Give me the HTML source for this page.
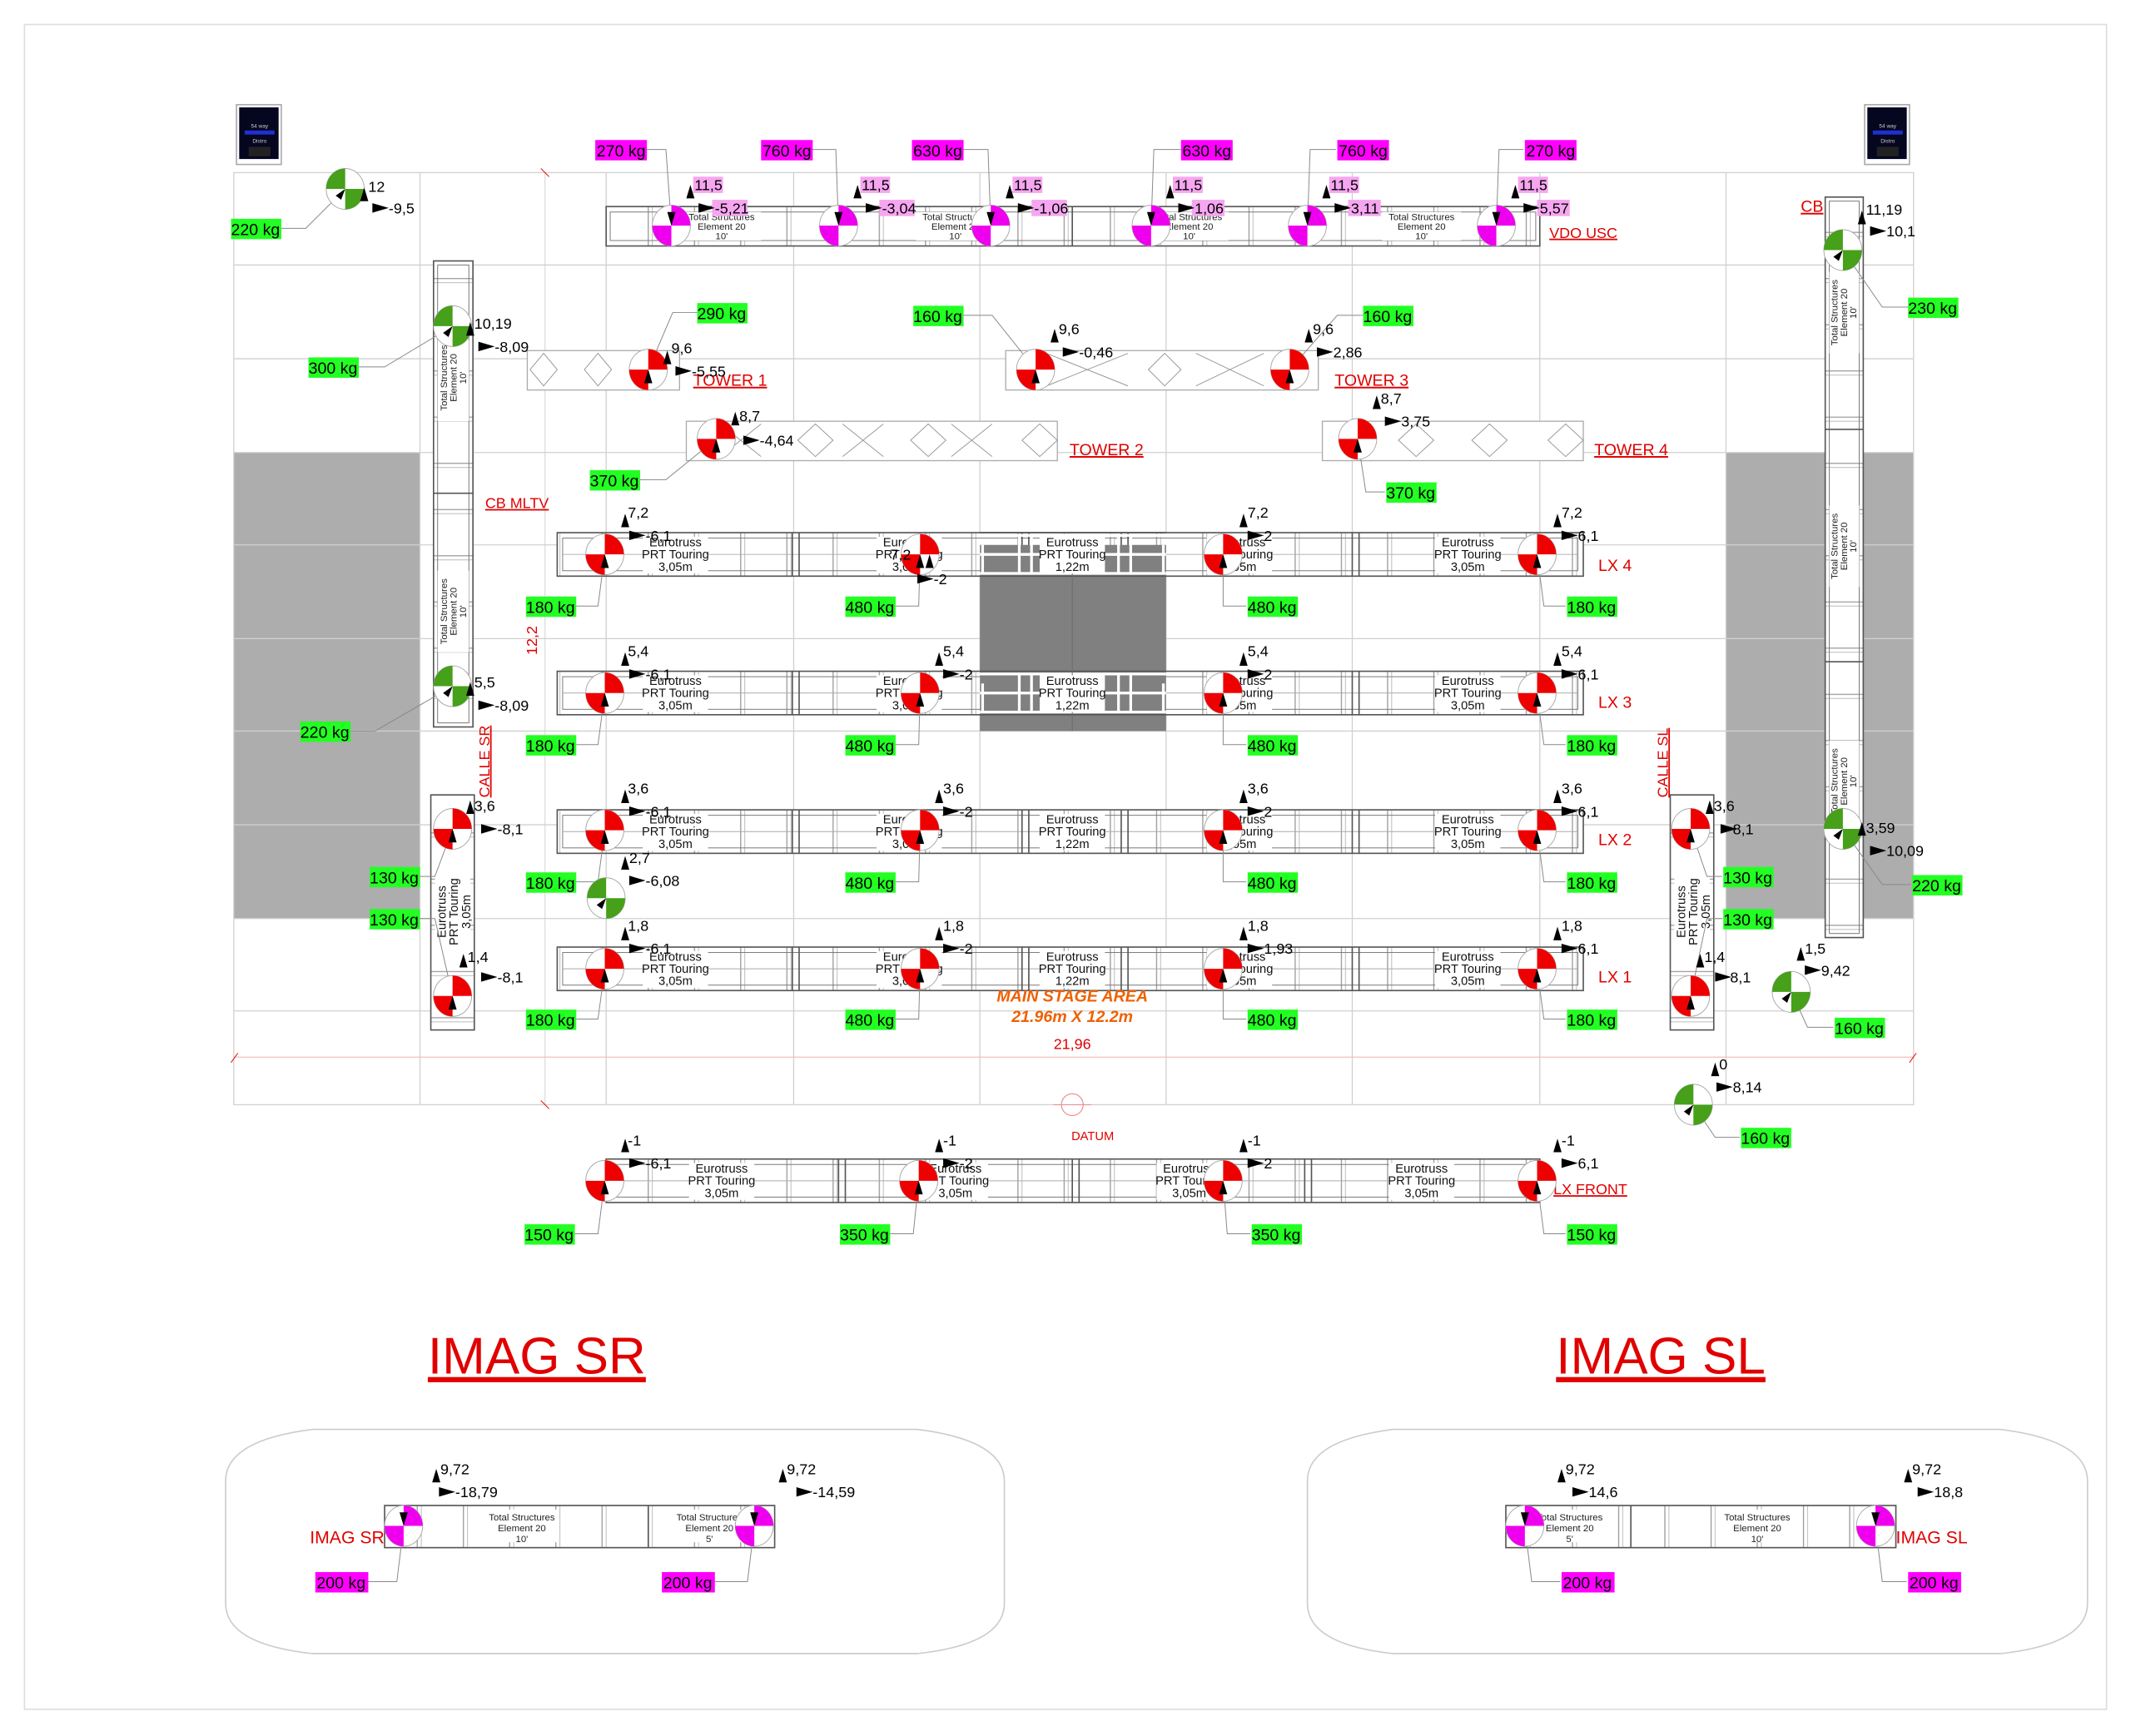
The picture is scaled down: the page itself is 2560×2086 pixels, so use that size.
<!DOCTYPE html>
<html><head><meta charset="utf-8"><style>
html,body{margin:0;padding:0;background:#fff}
svg{display:block}
text{font-family:"Liberation Sans",sans-serif}
.v{font-size:11px;fill:#000}
.kg{font-size:12px;fill:#000;text-anchor:middle}
.tl{font-size:7px;fill:#222;text-anchor:middle}
.rd{fill:#e00000;font-size:12px}
.g{stroke:#d0d0d0;stroke-width:.8;fill:none}
.ld{stroke:#888;stroke-width:.6;fill:none}
.tr{fill:url(#tp);stroke:#555;stroke-width:1}
</style></head><body>
<svg width="2560" height="2086" viewBox="0 0 1568 1277.6" xmlns="http://www.w3.org/2000/svg">
<defs>
<pattern id="tp" patternUnits="userSpaceOnUse" width="34" height="34">
<rect width="34" height="34" fill="#fff"/>
<line x1="1" y1="0" x2="1" y2="34" stroke="#999" stroke-width="0.8"/>
<line x1="4" y1="0" x2="4" y2="34" stroke="#bbb" stroke-width="0.6"/>
</pattern>
<pattern id="tpv" patternUnits="userSpaceOnUse" width="34" height="34">
<rect width="34" height="34" fill="#fff"/>
<line y1="1" x1="0" y2="1" x2="34" stroke="#999" stroke-width="0.8"/>
<line y1="4" x1="0" y2="4" x2="34" stroke="#bbb" stroke-width="0.6"/>
</pattern>
<g id="tr"><ellipse rx="14" ry="15" fill="#fff" stroke="#aaa" stroke-width=".6"/><path d="M0,0 L0,-15 A14,15 0 0 1 14,0 Z M0,0 L0,15 A14,15 0 0 1 -14,0 Z" fill="#ee0000"/><path d="M0,0 l-3,10 l6,0z" fill="#000"/></g>
<g id="tm"><ellipse rx="14" ry="15" fill="#fff" stroke="#aaa" stroke-width=".6"/><path d="M0,0 L0,-15 A14,15 0 0 1 14,0 Z M0,0 L0,15 A14,15 0 0 1 -14,0 Z" fill="#ee00ee"/><path d="M0,0 l-3,-10 l6,0z" fill="#000"/></g>
<g id="tg"><ellipse rx="14" ry="15" fill="#fff" stroke="#aaa" stroke-width=".6"/><path d="M0,0 L-14,0 A14,15 0 0 1 0,-15 Z M0,0 L14,0 A14,15 0 0 1 0,15 Z" fill="#46a01a"/><path d="M0,0 l-7,5 l4,3z" fill="#000"/></g>
<path id="ua" d="M0,0 l3,-10 l3,10z" fill="#000"/>
<path id="ra" d="M0,-3.5 l12,3.5 l-12,3.5z" fill="#000"/>
</defs>

<rect x="18" y="18" width="1532" height="1240" fill="none" stroke="#ddd" stroke-width="1"/>

<rect x="172" y="333" width="137" height="343" fill="#adadad"/>
<rect x="1270" y="333" width="138" height="343" fill="#adadad"/>

<rect x="172" y="127" width="1236" height="686" class="g"/>
<g class="g">
<line x1="309" y1="127" x2="309" y2="813"/><line x1="401" y1="127" x2="401" y2="813" stroke="#ddd"/>
<line x1="446" y1="127" x2="446" y2="813"/><line x1="584" y1="127" x2="584" y2="813"/>
<line x1="721" y1="127" x2="721" y2="813"/><line x1="858" y1="127" x2="858" y2="813"/>
<line x1="995" y1="127" x2="995" y2="813"/><line x1="1133" y1="127" x2="1133" y2="813"/>
<line x1="1270" y1="127" x2="1270" y2="813"/>
<line x1="172" y1="195" x2="1408" y2="195"/><line x1="172" y1="264" x2="1408" y2="264"/>
<line x1="172" y1="333" x2="1408" y2="333"/><line x1="172" y1="401" x2="1408" y2="401"/>
<line x1="172" y1="470" x2="1408" y2="470"/><line x1="172" y1="538" x2="1408" y2="538"/>
<line x1="172" y1="607" x2="1408" y2="607"/><line x1="172" y1="676" x2="1408" y2="676"/>
<line x1="172" y1="744" x2="1408" y2="744"/>
<line x1="172" y1="778" x2="1408" y2="778" stroke="#f0c0c0"/>
</g>
<line x1="398" y1="124" x2="404" y2="130" stroke="#e00" stroke-width=".6"/>
<line x1="170" y1="782" x2="175" y2="775" stroke="#e00" stroke-width=".6"/>
<line x1="1405" y1="782" x2="1410" y2="775" stroke="#e00" stroke-width=".6"/>
<line x1="398" y1="810" x2="404" y2="816" stroke="#e00" stroke-width=".6"/>
<circle cx="789" cy="813" r="8" fill="none" stroke="#e88" stroke-width=".7"/>
<line x1="775" y1="813" x2="803" y2="813" stroke="#e88" stroke-width=".5"/>

<g><rect x="174" y="77" width="33" height="44" fill="#fff" stroke="#aaa"/><rect x="176" y="79" width="29" height="38" fill="#050620"/><rect x="180" y="96" width="22" height="3" fill="#2030d0"/><text x="191" y="94" font-size="4" fill="#ccc" text-anchor="middle">54 way</text><text x="191" y="105" font-size="4" fill="#ccc" text-anchor="middle">Distro</text><rect x="183" y="108" width="16" height="7" fill="#222"/></g>
<g><rect x="1372" y="77" width="33" height="44" fill="#fff" stroke="#aaa"/><rect x="1374" y="79" width="29" height="38" fill="#050620"/><rect x="1378" y="96" width="22" height="3" fill="#2030d0"/><text x="1389" y="94" font-size="4" fill="#ccc" text-anchor="middle">54 way</text><text x="1389" y="105" font-size="4" fill="#ccc" text-anchor="middle">Distro</text><rect x="1381" y="108" width="16" height="7" fill="#222"/></g>

<rect x="446" y="152" width="687" height="29" class="tr"/>
<rect x="449" y="156" width="681" height="21" fill="none" stroke="#777" stroke-width=".6"/>
<line x1="789" y1="152" x2="789" y2="181" stroke="#555"/>
<g class="tl"><rect x="502" y="156" width="58" height="21" fill="#fff"/><text x="531" y="162">Total Structures</text><text x="531" y="169">Element 20</text><text x="531" y="176">10'</text>
<rect x="674" y="156" width="58" height="21" fill="#fff"/><text x="703" y="162">Total Structures</text><text x="703" y="169">Element 20</text><text x="703" y="176">10'</text>
<rect x="846" y="156" width="58" height="21" fill="#fff"/><text x="875" y="162">Total Structures</text><text x="875" y="169">Element 20</text><text x="875" y="176">10'</text>
<rect x="1017" y="156" width="58" height="21" fill="#fff"/><text x="1046" y="162">Total Structures</text><text x="1046" y="169">Element 20</text><text x="1046" y="176">10'</text></g>

<g fill="#fff" stroke="#aaa" stroke-width=".8">
<rect x="388" y="258" width="112" height="29"/><rect x="505" y="310" width="273" height="29"/>
<rect x="740" y="258" width="230" height="29"/><rect x="973" y="310" width="192" height="29"/>
</g>
<g stroke="#999" stroke-width=".6" fill="none">
<path d="M390,272 l10,-12 l10,12 l-10,12z M430,272 l10,-12 l10,12 l-10,12z M587,324 l13,-12 l13,12 l-13,12z M670,324 l13,-12 l13,12 l-13,12z M752,324 l13,-12 l13,12 l-13,12z M845,272 l12,-12 l12,12 l-12,12z M1029,324 l13,-12 l13,12 l-13,12z M1083,324 l13,-12 l13,12 l-13,12z M1139,324 l13,-12 l13,12 l-13,12z M530,312 l30,24 M560,312 l-30,24 M620,312 l30,24 M650,312 l-30,24 M700,312 l30,24 M730,312 l-30,24 M770,260 l60,24 M830,260 l-60,24 M880,260 l50,24 M930,260 l-50,24"/>
</g>

<rect x="319" y="192" width="29" height="343" fill="url(#tpv)" stroke="#555"/>
<rect x="322" y="195" width="23" height="337" fill="none" stroke="#777" stroke-width=".6"/>
<line x1="319" y1="363" x2="348" y2="363" stroke="#555"/>
<g class="tl"><rect x="322" y="250" width="23" height="60" fill="#fff"/><text transform="translate(329,278) rotate(-90)">Total Structures</text><text transform="translate(336,278) rotate(-90)">Element 20</text><text transform="translate(343,278) rotate(-90)">10'</text>
<rect x="322" y="420" width="23" height="60" fill="#fff"/><text transform="translate(329,450) rotate(-90)">Total Structures</text><text transform="translate(336,450) rotate(-90)">Element 20</text><text transform="translate(343,450) rotate(-90)">10'</text></g>

<rect x="1343" y="145" width="28" height="545" fill="url(#tpv)" stroke="#555"/>
<rect x="1346" y="148" width="22" height="539" fill="none" stroke="#777" stroke-width=".6"/>
<line x1="1343" y1="316" x2="1371" y2="316" stroke="#555"/><line x1="1343" y1="487" x2="1371" y2="487" stroke="#555"/>
<g class="tl"><rect x="1346" y="200" width="22" height="60" fill="#fff"/><text transform="translate(1352,230) rotate(-90)">Total Structures</text><text transform="translate(1359,230) rotate(-90)">Element 20</text><text transform="translate(1366,230) rotate(-90)">10'</text>
<rect x="1346" y="372" width="22" height="60" fill="#fff"/><text transform="translate(1352,402) rotate(-90)">Total Structures</text><text transform="translate(1359,402) rotate(-90)">Element 20</text><text transform="translate(1366,402) rotate(-90)">10'</text>
<rect x="1346" y="545" width="22" height="60" fill="#fff"/><text transform="translate(1352,575) rotate(-90)">Total Structures</text><text transform="translate(1359,575) rotate(-90)">Element 20</text><text transform="translate(1366,575) rotate(-90)">10'</text></g>

<rect x="317" y="585" width="32" height="173" fill="url(#tpv)" stroke="#555"/>
<rect x="1229" y="585" width="32" height="173" fill="url(#tpv)" stroke="#555"/>
<g font-size="9" fill="#111" text-anchor="middle">
<rect x="320" y="640" width="26" height="62" fill="#fff"/><text transform="translate(328,671) rotate(-90)">Eurotruss</text><text transform="translate(337,671) rotate(-90)">PRT Touring</text><text transform="translate(346,671) rotate(-90)">3,05m</text>
<rect x="1232" y="640" width="26" height="62" fill="#fff"/><text transform="translate(1240,671) rotate(-90)">Eurotruss</text><text transform="translate(1249,671) rotate(-90)">PRT Touring</text><text transform="translate(1258,671) rotate(-90)">3,05m</text>
</g>

<g id="lx4">
<rect x="410" y="392" width="755" height="32" class="tr"/>
<rect x="414" y="396" width="747" height="24" fill="none" stroke="#777" stroke-width=".6"/>
<line x1="414" y1="408" x2="1161" y2="408" stroke="#aaa" stroke-width=".6"/>
<g stroke="#555"><line x1="583" y1="392" x2="583" y2="424"/><line x1="588" y1="392" x2="588" y2="424"/><line x1="752" y1="392" x2="752" y2="424"/><line x1="757" y1="392" x2="757" y2="424"/><line x1="825" y1="392" x2="825" y2="424"/><line x1="830" y1="392" x2="830" y2="424"/><line x1="995" y1="392" x2="995" y2="424"/><line x1="1000" y1="392" x2="1000" y2="424"/></g>
</g>
<use href="#lx4" y="102"/><use href="#lx4" y="204"/><use href="#lx4" y="305"/>

<!-- center dark area over trusses -->
<rect x="721" y="401" width="137" height="137" fill="#808080"/>
<g id="gw" stroke="#fff" stroke-width="2" fill="none">
<line x1="721" y1="394" x2="858" y2="394"/><line x1="721" y1="422" x2="858" y2="422"/>
<line x1="721" y1="408" x2="858" y2="408"/>
<line x1="723" y1="401" x2="723" y2="422"/><line x1="750" y1="394" x2="750" y2="422"/><line x1="759" y1="394" x2="759" y2="422"/><line x1="823" y1="394" x2="823" y2="422"/><line x1="832" y1="394" x2="832" y2="422"/><line x1="856" y1="401" x2="856" y2="422"/>
</g>
<use href="#gw" y="102"/>
<rect x="721" y="392" width="137" height="9" fill="none"/>
<g stroke="#555" stroke-width="1"><line x1="721" y1="392" x2="858" y2="392"/><line x1="721" y1="424" x2="858" y2="424"/><line x1="721" y1="494" x2="858" y2="494"/><line x1="721" y1="526" x2="858" y2="526"/></g>
<line x1="789" y1="401" x2="789" y2="538" stroke="#6a6a6a" stroke-width=".6"/>

<g font-size="9" fill="#111" text-anchor="middle">
<g id="lxt">
<rect x="473" y="395" width="48" height="27" fill="#fff"/><text x="497" y="402">Eurotruss</text><text x="497" y="411">PRT Touring</text><text x="497" y="420">3,05m</text>
<rect x="645" y="395" width="48" height="27" fill="#fff"/><text x="669" y="402">Eurotruss</text><text x="669" y="411">PRT Touring</text><text x="669" y="420">3,05m</text>
<rect x="765" y="395" width="48" height="27" fill="#fff"/><text x="789" y="402">Eurotruss</text><text x="789" y="411">PRT Touring</text><text x="789" y="420">1,22m</text>
<rect x="888" y="395" width="48" height="27" fill="#fff"/><text x="912" y="402">Eurotruss</text><text x="912" y="411">PRT Touring</text><text x="912" y="420">3,05m</text>
<rect x="1056" y="395" width="48" height="27" fill="#fff"/><text x="1080" y="402">Eurotruss</text><text x="1080" y="411">PRT Touring</text><text x="1080" y="420">3,05m</text>
</g>
<use href="#lxt" y="102"/><use href="#lxt" y="204"/><use href="#lxt" y="305"/>
</g>

<rect x="446" y="853" width="687" height="32" class="tr"/>
<rect x="450" y="857" width="679" height="24" fill="none" stroke="#777" stroke-width=".6"/>
<line x1="450" y1="869" x2="1129" y2="869" stroke="#aaa" stroke-width=".6"/>
<g stroke="#555"><line x1="617" y1="853" x2="617" y2="885"/><line x1="622" y1="853" x2="622" y2="885"/><line x1="789" y1="853" x2="789" y2="885"/><line x1="794" y1="853" x2="794" y2="885"/><line x1="960" y1="853" x2="960" y2="885"/><line x1="965" y1="853" x2="965" y2="885"/></g>
<g font-size="9" fill="#111" text-anchor="middle">
<rect x="507" y="856" width="48" height="27" fill="#fff"/><text x="531" y="863">Eurotruss</text><text x="531" y="872">PRT Touring</text><text x="531" y="881">3,05m</text>
<rect x="679" y="856" width="48" height="27" fill="#fff"/><text x="703" y="863">Eurotruss</text><text x="703" y="872">PRT Touring</text><text x="703" y="881">3,05m</text>
<rect x="851" y="856" width="48" height="27" fill="#fff"/><text x="875" y="863">Eurotruss</text><text x="875" y="872">PRT Touring</text><text x="875" y="881">3,05m</text>
<rect x="1022" y="856" width="48" height="27" fill="#fff"/><text x="1046" y="863">Eurotruss</text><text x="1046" y="872">PRT Touring</text><text x="1046" y="881">3,05m</text>
</g>

<path d="M230,1052 L675,1052 Q739,1060 739,1090 L739,1180 Q739,1210 675,1217 L230,1217 Q166,1210 166,1180 L166,1090 Q166,1060 230,1052 Z" fill="none" stroke="#ccc"/>
<path d="M1025,1052 L1472,1052 Q1536,1060 1536,1090 L1536,1180 Q1536,1210 1472,1217 L1025,1217 Q962,1210 962,1180 L962,1090 Q962,1060 1025,1052 Z" fill="none" stroke="#ccc"/>
<rect x="283" y="1108" width="287" height="31" class="tr"/><line x1="477" y1="1108" x2="477" y2="1139" stroke="#555"/>
<rect x="1108" y="1108" width="287" height="31" class="tr"/><line x1="1200" y1="1108" x2="1200" y2="1139" stroke="#555"/>
<g class="tl">
<rect x="358" y="1111" width="52" height="24" fill="#fff"/><text x="384" y="1119">Total Structures</text><text x="384" y="1127">Element 20</text><text x="384" y="1135">10'</text>
<rect x="497" y="1111" width="50" height="24" fill="#fff"/><text x="522" y="1119">Total Structures</text><text x="522" y="1127">Element 20</text><text x="522" y="1135">5'</text>
<rect x="1130" y="1111" width="50" height="24" fill="#fff"/><text x="1155" y="1119">Total Structures</text><text x="1155" y="1127">Element 20</text><text x="1155" y="1135">5'</text>
<rect x="1267" y="1111" width="52" height="24" fill="#fff"/><text x="1293" y="1119">Total Structures</text><text x="1293" y="1127">Element 20</text><text x="1293" y="1135">10'</text>
</g>

<g class="rd">
<text x="510" y="284" text-decoration="underline">TOWER 1</text>
<text x="787" y="335" text-decoration="underline">TOWER 2</text>
<text x="982" y="284" text-decoration="underline">TOWER 3</text>
<text x="1173" y="335" text-decoration="underline">TOWER 4</text>
<text x="1140" y="175" font-size="11" text-decoration="underline">VDO USC</text>
<text x="357" y="374" font-size="11" text-decoration="underline">CB MLTV</text>
<text x="1325" y="156" text-decoration="underline">CB</text>
<text x="1176" y="420">LX 4</text><text x="1176" y="521">LX 3</text><text x="1176" y="622">LX 2</text><text x="1176" y="723">LX 1</text>
<text x="1143" y="879" font-size="11" text-decoration="underline">LX FRONT</text>
<text transform="translate(360,587) rotate(-90)" font-size="11" text-decoration="underline">CALLE SR</text>
<text transform="translate(1227,587) rotate(-90)" font-size="11" text-decoration="underline">CALLE SL</text>
<text transform="translate(395,482) rotate(-90)" font-size="11">12,2</text>
<text x="789" y="772" font-size="11" text-anchor="middle">21,96</text>
<text x="804" y="839" font-size="9" text-anchor="middle">DATUM</text>
<text x="395" y="1011" font-size="38" text-anchor="middle" text-decoration="underline">IMAG SR</text>
<text x="1222" y="1011" font-size="38" text-anchor="middle" text-decoration="underline">IMAG SL</text>
<text x="228" y="1136" font-size="13">IMAG SR</text>
<text x="1395" y="1136" font-size="13">IMAG SL</text>
</g>
<g fill="#f06000" font-weight="bold" font-style="italic" font-size="12" text-anchor="middle"><text x="789" y="737">MAIN STAGE AREA</text><text x="789" y="752">21.96m X 12.2m</text></g>

<g class="ld">
<path d="M494,166 L490,110 L475,110"/><path d="M617,166 L615,110 L597,110"/><path d="M729,166 L727,110 L708,110"/><path d="M847,166 L849,110 L869,110"/><path d="M962,166 L964,110 L983,110"/><path d="M1101,166 L1103,110 L1121,110"/>
<path d="M254,139 L225,168 L207,168"/><path d="M1356,184 L1385,226 L1404,226"/><path d="M333,240 L283,270 L264,270"/>
<path d="M477,272 L495,230 L513,230"/><path d="M762,272 L730,232 L709,232"/><path d="M949,272 L984,232 L1003,232"/>
<path d="M527,323 L490,353 L471,353"/><path d="M999,323 L1005,362 L1019,362"/>
<path d="M445,408 L440,446 L424,446"/><path d="M677,408 L676,446 L659,446"/><path d="M900,408 L900,446 L917,446"/><path d="M1131,408 L1136,446 L1152,446"/>
<path d="M445,510 L440,548 L424,548"/><path d="M677,510 L676,548 L659,548"/><path d="M900,510 L900,548 L917,548"/><path d="M1131,510 L1136,548 L1152,548"/>
<path d="M445,611 L440,649 L424,649"/><path d="M677,611 L676,649 L659,649"/><path d="M900,611 L900,649 L917,649"/><path d="M1131,611 L1136,649 L1152,649"/>
<path d="M445,713 L440,750 L424,750"/><path d="M677,713 L676,750 L659,750"/><path d="M900,713 L900,750 L917,750"/><path d="M1131,713 L1136,750 L1152,750"/>
<path d="M333,505 L276,538 L258,538"/><path d="M333,610 L320,645 L309,645"/><path d="M333,733 L320,676 L309,676"/>
<path d="M1244,610 L1256,645 L1267,645"/><path d="M1244,733 L1256,676 L1267,676"/><path d="M1356,610 L1385,651 L1406,651"/>
<path d="M1318,730 L1330,756 L1349,756"/><path d="M1246,813 L1262,837 L1280,837"/>
<path d="M445,869 L440,908 L423,908"/><path d="M676,869 L672,908 L655,908"/><path d="M900,869 L903,908 L920,908"/><path d="M1131,869 L1136,908 L1152,908"/>
<path d="M297,1123 L292,1164 L271,1164"/><path d="M555,1123 L550,1164 L526,1164"/><path d="M1122,1123 L1127,1164 L1148,1164"/><path d="M1380,1123 L1385,1164 L1403,1164"/>
</g>

<g>
<use href="#tm" x="494" y="166"/><use href="#tm" x="617" y="166"/><use href="#tm" x="729" y="166"/><use href="#tm" x="847" y="166"/><use href="#tm" x="962" y="166"/><use href="#tm" x="1101" y="166"/>
<use href="#tg" x="254" y="139"/><use href="#tg" x="1356" y="184"/><use href="#tg" x="333" y="240"/><use href="#tg" x="333" y="505"/>
<use href="#tr" x="477" y="272"/><use href="#tr" x="762" y="272"/><use href="#tr" x="949" y="272"/><use href="#tr" x="527" y="323"/><use href="#tr" x="999" y="323"/>
<use href="#tr" x="445" y="408"/><use href="#tr" x="677" y="408"/><use href="#tr" x="900" y="408"/><use href="#tr" x="1131" y="408"/>
<use href="#tr" x="445" y="510"/><use href="#tr" x="677" y="510"/><use href="#tr" x="900" y="510"/><use href="#tr" x="1131" y="510"/>
<use href="#tr" x="445" y="611"/><use href="#tr" x="677" y="611"/><use href="#tr" x="900" y="611"/><use href="#tr" x="1131" y="611"/>
<use href="#tr" x="445" y="713"/><use href="#tr" x="677" y="713"/><use href="#tr" x="900" y="713"/><use href="#tr" x="1131" y="713"/>
<use href="#tr" x="333" y="610"/><use href="#tr" x="333" y="733"/><use href="#tr" x="1244" y="610"/><use href="#tr" x="1244" y="733"/>
<use href="#tg" x="1356" y="610"/><use href="#tg" x="446" y="661"/><use href="#tg" x="1318" y="730"/><use href="#tg" x="1246" y="813"/>
<use href="#tr" x="445" y="869"/><use href="#tr" x="676" y="869"/><use href="#tr" x="900" y="869"/><use href="#tr" x="1131" y="869"/>
<use href="#tm" x="297" y="1123"/><use href="#tm" x="555" y="1123"/><use href="#tm" x="1122" y="1123"/><use href="#tm" x="1380" y="1123"/>
</g>

<g class="v">
<g fill="#f6a6f0"><rect x="510" y="130" width="22" height="12"/><rect x="633" y="130" width="22" height="12"/><rect x="745" y="130" width="22" height="12"/><rect x="863" y="130" width="22" height="12"/><rect x="978" y="130" width="22" height="12"/><rect x="1117" y="130" width="22" height="12"/>
<rect x="524" y="147" width="26" height="12"/><rect x="647" y="147" width="26" height="12"/><rect x="759" y="147" width="26" height="12"/><rect x="877" y="147" width="24" height="12"/><rect x="992" y="147" width="24" height="12"/><rect x="1131" y="147" width="24" height="12"/></g>
<use href="#ua" x="505" y="146"/><text x="511" y="140">11,5</text><use href="#ra" x="514" y="153"/><text x="526" y="157">-5,21</text>
<use href="#ua" x="628" y="146"/><text x="634" y="140">11,5</text><use href="#ra" x="637" y="153"/><text x="649" y="157">-3,04</text>
<use href="#ua" x="740" y="146"/><text x="746" y="140">11,5</text><use href="#ra" x="749" y="153"/><text x="761" y="157">-1,06</text>
<use href="#ua" x="858" y="146"/><text x="864" y="140">11,5</text><use href="#ra" x="867" y="153"/><text x="879" y="157">1,06</text>
<use href="#ua" x="973" y="146"/><text x="979" y="140">11,5</text><use href="#ra" x="982" y="153"/><text x="994" y="157">3,11</text>
<use href="#ua" x="1112" y="146"/><text x="1118" y="140">11,5</text><use href="#ra" x="1121" y="153"/><text x="1133" y="157">5,57</text>

<use href="#ua" x="265" y="148"/><text x="271" y="141">12</text><use href="#ra" x="274" y="153"/><text x="286" y="157">-9,5</text>
<use href="#ua" x="1367" y="165"/><text x="1373" y="158">11,19</text><use href="#ra" x="1376" y="170"/><text x="1388" y="174">10,1</text>
<use href="#ua" x="343" y="247"/><text x="349" y="242">10,19</text><use href="#ra" x="352" y="255"/><text x="364" y="259">-8,09</text>
<use href="#ua" x="343" y="512"/><text x="349" y="506">5,5</text><use href="#ra" x="352" y="519"/><text x="364" y="523">-8,09</text>
<use href="#ua" x="488" y="268"/><text x="494" y="260">9,6</text><use href="#ra" x="497" y="273"/><text x="509" y="277">-5,55</text>
<use href="#ua" x="773" y="252"/><text x="779" y="246">9,6</text><use href="#ra" x="782" y="259"/><text x="794" y="263">-0,46</text>
<use href="#ua" x="960" y="252"/><text x="966" y="246">9,6</text><use href="#ra" x="969" y="259"/><text x="981" y="263">2,86</text>
<use href="#ua" x="538" y="313"/><text x="544" y="310">8,7</text><use href="#ra" x="547" y="324"/><text x="559" y="328">-4,64</text>
<use href="#ua" x="1010" y="301"/><text x="1016" y="297">8,7</text><use href="#ra" x="1019" y="310"/><text x="1031" y="314">3,75</text>

<use href="#ua" x="457" y="388"/><text x="462" y="381">7,2</text><use href="#ra" x="463" y="394"/><text x="475" y="398">-6,1</text>
<use href="#ua" x="681" y="418"/><text x="655" y="412">7,2</text><use href="#ra" x="675" y="426"/><text x="687" y="430">-2</text>
<use href="#ua" x="912" y="388"/><text x="918" y="381">7,2</text><use href="#ra" x="918" y="394"/><text x="930" y="398">2</text>
<use href="#ua" x="1143" y="388"/><text x="1149" y="381">7,2</text><use href="#ra" x="1149" y="394"/><text x="1161" y="398">6,1</text>
<use href="#ua" x="457" y="490"/><text x="462" y="483">5,4</text><use href="#ra" x="463" y="496"/><text x="475" y="500">-6,1</text>
<use href="#ua" x="688" y="490"/><text x="694" y="483">5,4</text><use href="#ra" x="694" y="496"/><text x="706" y="500">-2</text>
<use href="#ua" x="912" y="490"/><text x="918" y="483">5,4</text><use href="#ra" x="918" y="496"/><text x="930" y="500">2</text>
<use href="#ua" x="1143" y="490"/><text x="1149" y="483">5,4</text><use href="#ra" x="1149" y="496"/><text x="1161" y="500">6,1</text>
<use href="#ua" x="457" y="591"/><text x="462" y="584">3,6</text><use href="#ra" x="463" y="597"/><text x="475" y="601">-6,1</text>
<use href="#ua" x="688" y="591"/><text x="694" y="584">3,6</text><use href="#ra" x="694" y="597"/><text x="706" y="601">-2</text>
<use href="#ua" x="912" y="591"/><text x="918" y="584">3,6</text><use href="#ra" x="918" y="597"/><text x="930" y="601">2</text>
<use href="#ua" x="1143" y="591"/><text x="1149" y="584">3,6</text><use href="#ra" x="1149" y="597"/><text x="1161" y="601">6,1</text>
<use href="#ua" x="457" y="692"/><text x="462" y="685">1,8</text><use href="#ra" x="463" y="698"/><text x="475" y="702">-6,1</text>
<use href="#ua" x="688" y="692"/><text x="694" y="685">1,8</text><use href="#ra" x="694" y="698"/><text x="706" y="702">-2</text>
<use href="#ua" x="912" y="692"/><text x="918" y="685">1,8</text><use href="#ra" x="918" y="698"/><text x="930" y="702">1,93</text>
<use href="#ua" x="1143" y="692"/><text x="1149" y="685">1,8</text><use href="#ra" x="1149" y="698"/><text x="1161" y="702">6,1</text>

<use href="#ua" x="457" y="640"/><text x="463" y="635">2,7</text><use href="#ra" x="463" y="648"/><text x="475" y="652">-6,08</text>
<use href="#ua" x="343" y="599"/><text x="349" y="597">3,6</text><use href="#ra" x="354" y="610"/><text x="366" y="614">-8,1</text>
<use href="#ua" x="338" y="712"/><text x="344" y="708">1,4</text><use href="#ra" x="354" y="719"/><text x="366" y="723">-8,1</text>
<use href="#ua" x="1255" y="599"/><text x="1261" y="597">3,6</text><use href="#ra" x="1266" y="610"/><text x="1275" y="614">8,1</text>
<use href="#ua" x="1248" y="712"/><text x="1254" y="708">1,4</text><use href="#ra" x="1262" y="719"/><text x="1273" y="723">8,1</text>
<use href="#ua" x="1367" y="615"/><text x="1373" y="613">3,59</text><use href="#ra" x="1376" y="626"/><text x="1388" y="630">10,09</text>
<use href="#ua" x="1322" y="707"/><text x="1328" y="702">1,5</text><use href="#ra" x="1328" y="714"/><text x="1340" y="718">9,42</text>
<use href="#ua" x="1259" y="792"/><text x="1265" y="787">0</text><use href="#ra" x="1263" y="800"/><text x="1275" y="804">8,14</text>

<use href="#ua" x="457" y="848"/><text x="462" y="843">-1</text><use href="#ra" x="463" y="856"/><text x="475" y="860">-6,1</text>
<use href="#ua" x="688" y="848"/><text x="694" y="843">-1</text><use href="#ra" x="694" y="856"/><text x="706" y="860">-2</text>
<use href="#ua" x="912" y="848"/><text x="918" y="843">-1</text><use href="#ra" x="918" y="856"/><text x="930" y="860">2</text>
<use href="#ua" x="1143" y="848"/><text x="1149" y="843">-1</text><use href="#ra" x="1149" y="856"/><text x="1161" y="860">6,1</text>

<use href="#ua" x="318" y="1091"/><text x="324" y="1085">9,72</text><use href="#ra" x="323" y="1098"/><text x="335" y="1102">-18,79</text>
<use href="#ua" x="573" y="1091"/><text x="579" y="1085">9,72</text><use href="#ra" x="586" y="1098"/><text x="598" y="1102">-14,59</text>
<use href="#ua" x="1146" y="1091"/><text x="1152" y="1085">9,72</text><use href="#ra" x="1157" y="1098"/><text x="1169" y="1102">14,6</text>
<use href="#ua" x="1401" y="1091"/><text x="1407" y="1085">9,72</text><use href="#ra" x="1411" y="1098"/><text x="1423" y="1102">18,8</text>
</g>

<g class="kg">
<g fill="#ff00ff">
<rect x="438" y="103" width="38" height="15"/><rect x="560" y="103" width="38" height="15"/><rect x="671" y="103" width="38" height="15"/><rect x="869" y="103" width="38" height="15"/><rect x="984" y="103" width="38" height="15"/><rect x="1122" y="103" width="38" height="15"/>
<rect x="232" y="1157" width="39" height="15"/><rect x="487" y="1157" width="39" height="15"/><rect x="1149" y="1157" width="39" height="15"/><rect x="1404" y="1157" width="39" height="15"/>
</g>
<g fill="#22ff22">
<rect x="170" y="161" width="37" height="15"/><rect x="1404" y="219" width="37" height="15"/><rect x="227" y="263" width="37" height="15"/><rect x="513" y="223" width="37" height="15"/><rect x="672" y="225" width="37" height="15"/><rect x="1003" y="225" width="37" height="15"/><rect x="434" y="346" width="37" height="15"/><rect x="1020" y="355" width="37" height="15"/>
<rect x="387" y="439" width="37" height="15"/><rect x="622" y="439" width="37" height="15"/><rect x="918" y="439" width="37" height="15"/><rect x="1153" y="439" width="37" height="15"/>
<rect x="387" y="541" width="37" height="15"/><rect x="622" y="541" width="37" height="15"/><rect x="918" y="541" width="37" height="15"/><rect x="1153" y="541" width="37" height="15"/>
<rect x="387" y="642" width="37" height="15"/><rect x="622" y="642" width="37" height="15"/><rect x="918" y="642" width="37" height="15"/><rect x="1153" y="642" width="37" height="15"/>
<rect x="387" y="743" width="37" height="15"/><rect x="622" y="743" width="37" height="15"/><rect x="918" y="743" width="37" height="15"/><rect x="1153" y="743" width="37" height="15"/>
<rect x="221" y="531" width="37" height="15"/><rect x="272" y="638" width="37" height="15"/><rect x="272" y="669" width="37" height="15"/><rect x="1268" y="638" width="37" height="15"/><rect x="1268" y="669" width="37" height="15"/><rect x="1407" y="644" width="37" height="15"/><rect x="1350" y="749" width="37" height="15"/><rect x="1281" y="830" width="37" height="15"/>
<rect x="386" y="901" width="37" height="15"/><rect x="618" y="901" width="37" height="15"/><rect x="921" y="901" width="37" height="15"/><rect x="1153" y="901" width="37" height="15"/>
</g>
<text x="457" y="115">270 kg</text><text x="579" y="115">760 kg</text><text x="690" y="115">630 kg</text><text x="888" y="115">630 kg</text><text x="1003" y="115">760 kg</text><text x="1141" y="115">270 kg</text>
<text x="251" y="1169">200 kg</text><text x="506" y="1169">200 kg</text><text x="1168" y="1169">200 kg</text><text x="1423" y="1169">200 kg</text>
<text x="188" y="173">220 kg</text><text x="1422" y="231">230 kg</text><text x="245" y="275">300 kg</text><text x="531" y="235">290 kg</text><text x="690" y="237">160 kg</text><text x="1021" y="237">160 kg</text><text x="452" y="358">370 kg</text><text x="1038" y="367">370 kg</text>
<text x="405" y="451">180 kg</text><text x="640" y="451">480 kg</text><text x="936" y="451">480 kg</text><text x="1171" y="451">180 kg</text>
<text x="405" y="553">180 kg</text><text x="640" y="553">480 kg</text><text x="936" y="553">480 kg</text><text x="1171" y="553">180 kg</text>
<text x="405" y="654">180 kg</text><text x="640" y="654">480 kg</text><text x="936" y="654">480 kg</text><text x="1171" y="654">180 kg</text>
<text x="405" y="755">180 kg</text><text x="640" y="755">480 kg</text><text x="936" y="755">480 kg</text><text x="1171" y="755">180 kg</text>
<text x="239" y="543">220 kg</text><text x="290" y="650">130 kg</text><text x="290" y="681">130 kg</text><text x="1286" y="650">130 kg</text><text x="1286" y="681">130 kg</text><text x="1425" y="656">220 kg</text><text x="1368" y="761">160 kg</text><text x="1299" y="842">160 kg</text>
<text x="404" y="913">150 kg</text><text x="636" y="913">350 kg</text><text x="939" y="913">350 kg</text><text x="1171" y="913">150 kg</text>
</g>
</svg>
</body></html>
